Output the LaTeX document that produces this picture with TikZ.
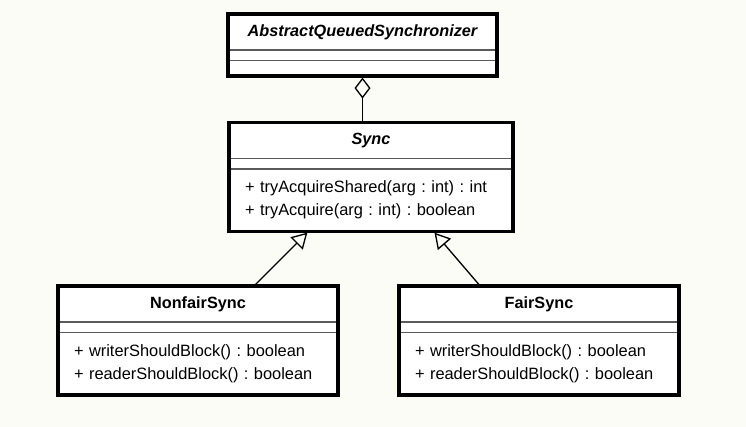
\documentclass[tikz,border=0pt]{standalone}
\usepackage{fontspec}
\setmainfont{Liberation Sans}
\usetikzlibrary{positioning, arrows.meta, calc}
\definecolor{fundo}{RGB}{252,252,247}
\frenchspacing

\begin{document}
\begin{tikzpicture}[x=0.75pt, y=-0.75pt, font=\fontsize{12.3}{17.25}\selectfont]

  % --- CONFIGURAÇÕES GERAIS ---
  \def\px{0.75pt}
  \def\hNome{36}
  \def\hAttr{10.5}
  \def\hOps{62.5}

  % Estilos dos compartimentos (UML)
  \tikzstyle{compart}=[draw=black!65, line width=1.2pt, fill=white, inner sep=0pt, outer sep=0pt]
  \tikzstyle{nome}=[compart, minimum height=\hNome*\px, font=\fontsize{12.2}{14}\selectfont\bfseries]
  \tikzstyle{attr}=[compart, minimum height=\hAttr*\px]
  \tikzstyle{ops}=[compart, minimum height=\hOps*\px, inner xsep=16*\px, align=left]
  \tikzstyle{borda}=[line width=2.5pt]
  % Estilos das ligações
  \tikzstyle{agregacao}=[line width=1pt, {Diamond[open, length=15.75pt, width=12pt]}-]
  \tikzstyle{heranca}=[line width=1pt, -{Triangle[open, length=11.5pt, width=13pt]}, shorten >=1.2pt]

  % --- FUNDO ---
  \useasboundingbox (0,0) rectangle (746,427);
  \fill[fundo] (0,0) rectangle (746,427);

  % --- AbstractQueuedSynchronizer ---
  \node[nome, minimum width=269*\px, anchor=north] (aqsNome) at (362.5,14) {\itshape AbstractQueuedSynchronizer};
  \node[attr, minimum width=269*\px, below=0pt of aqsNome] (aqsAttr) {};
  \node[compart, minimum width=269*\px, minimum height=15.5*\px, below=0pt of aqsAttr] (aqsOps) {};
  \draw[borda] (aqsNome.north west) rectangle (aqsOps.south east);

  % --- Sync ---
  \node[nome, minimum width=284*\px, anchor=north] (syncNome) at (371,122.5) {\itshape Sync};
  \node[attr, minimum width=284*\px, below=0pt of syncNome] (syncAttr) {};
  \node[ops, text width=252*\px, below=0pt of syncAttr] (syncOps)
    {+ tryAcquireShared(arg : int) : int\\+ tryAcquire(arg : int) : boolean};
  \draw[borda] (syncNome.north west) rectangle (syncOps.south east);

  % --- NonfairSync ---
  \node[nome, minimum width=280*\px, anchor=north] (nfNome) at (198,286) {NonfairSync};
  \node[attr, minimum width=280*\px, below=0pt of nfNome] (nfAttr) {};
  \node[ops, text width=248*\px, below=0pt of nfAttr] (nfOps)
    {+ writerShouldBlock() : boolean\\+ readerShouldBlock() : boolean};
  \draw[borda] (nfNome.north west) rectangle (nfOps.south east);

  % --- FairSync ---
  \node[nome, minimum width=280*\px, anchor=north] (fNome) at (539,286) {FairSync};
  \node[attr, minimum width=280*\px, below=0pt of fNome] (fAttr) {};
  \node[ops, text width=248*\px, below=0pt of fAttr] (fOps)
    {+ writerShouldBlock() : boolean\\+ readerShouldBlock() : boolean};
  \draw[borda] (fNome.north west) rectangle (fOps.south east);

  % --- LIGAÇÕES ---
  % Agregação: Sync -> AQS
  \draw[agregacao] ([yshift=-1.2pt]aqsOps.south) -- (aqsOps.south |- syncNome.north);

  % Herança: NonfairSync e FairSync -> Sync
  \draw[heranca] ($(nfNome.north west)!0.7!(nfNome.north east)$) -- ($(syncOps.south west)!0.28!(syncOps.south east)$);
  \draw[heranca] ($(fNome.north west)!0.29!(fNome.north east)$) -- ($(syncOps.south west)!0.72!(syncOps.south east)$);

\end{tikzpicture}
\end{document}
